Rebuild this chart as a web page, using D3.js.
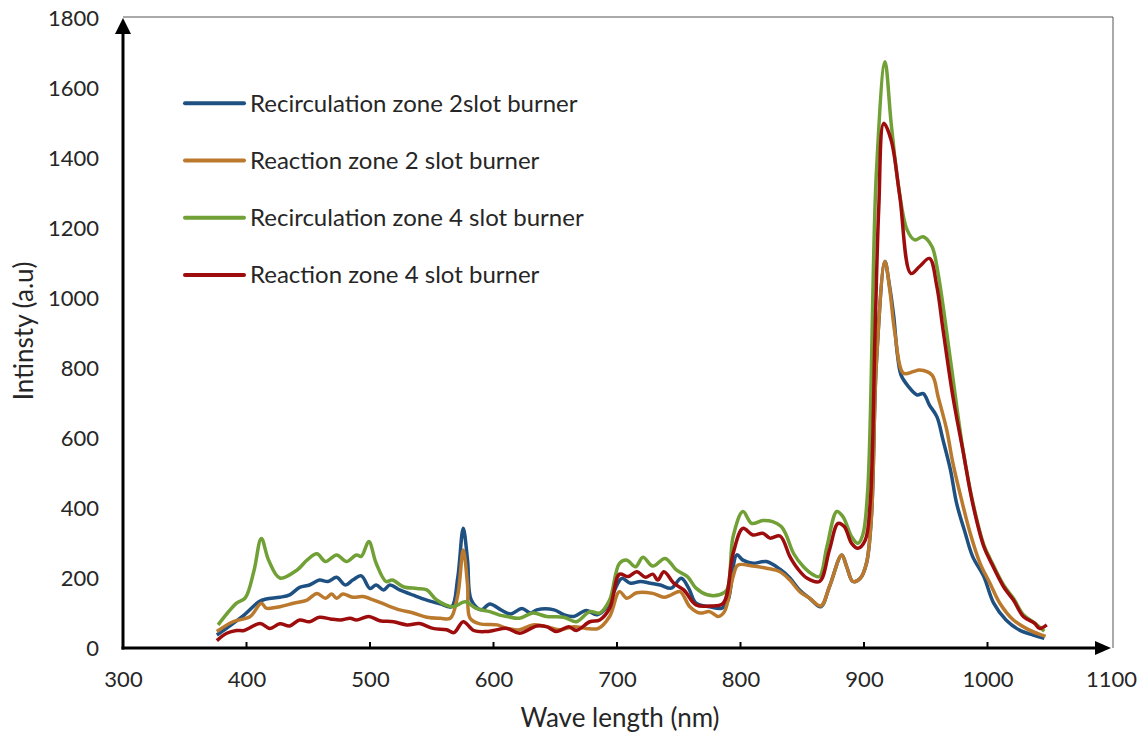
<!DOCTYPE html>
<html><head><meta charset="utf-8">
<script src="https://cdn.jsdelivr.net/npm/d3@7"></script>
<style>body{margin:0;background:#fff}svg{display:block}text{font-family:Lato,"Open Sans",sans-serif;fill:#262626}</style>
</head><body>
<svg id="c" width="1147" height="733"></svg>
<script>
const xTicks = [300,400,500,600,700,800,900,1000,1100];
const yTicks = [0,200,400,600,800,1000,1200,1400,1600,1800];
const seriesNames = ["Recirculation zone 2slot burner","Reaction zone 2 slot burner","Recirculation zone 4 slot burner","Reaction zone 4 slot burner"];
const seriesColors = ["#1E5082","#BA792C","#71A036","#9E0D0D"];

const recirc2 = [[376,37],[389,70],[398,94],[410,132],[416,140],[427,145],[435,152],[443,173],[451,180],[459,194],[466,190],[473,202],[480,180],[486,194],[493,206],[500,170],[505,180],[511,166],[516,180],[524,166],[535,151],[546,137],[557,126],[566,118],[571,200],[575.5,342],[579,250],[582,137],[590,109],[597,126],[606,109],[614,97],[623,113],[630,100],[635,109],[649,109],[657,95],[665,90],[675,107],[684,95],[692,118],[700,180],[704,199],[711,185],[719,190],[727,185],[735,180],[744,171],[752,199],[758,171],[764,128],[775,118],[785,114],[790,137],[797,266],[802,251],[810,242],[821,247],[832,225],[840,200],[848,165],[856,142],[865,118],[872,175],[882,266],[886,232],[891,190],[897,199],[902,242],[906,375],[910,813],[917,1104],[920,1050],[924,950],[927,840],[930,780],[936,747],[943,723],[948,727],[953,694],[959,661],[964,594],[970,509],[975,413],[982,328],[988,261],[997,204],[1005,128],[1015,80],[1026,51],[1037,37],[1046,28]];

const react2 = [[376,47],[389,75],[403,90],[412,128],[416,114],[427,118],[438,128],[449,137],[457,156],[464,142],[469,154],[473,142],[478,154],[486,145],[494,147],[503,137],[513,123],[524,109],[535,100],[546,88],[557,85],[565,85],[571,150],[575.5,280],[579,180],[581,85],[589,69],[603,66],[611,56],[621,52],[632,66],[643,61],[654,52],[665,61],[675,56],[685,56],[694,90],[702,161],[708,142],[716,158],[729,156],[738,145],[744,152],[751,161],[759,118],[767,100],[775,104],[782,90],[787,104],[794,204],[798,237],[810,234],[821,228],[832,218],[840,194],[848,161],[856,142],[865,120],[872,175],[882,266],[886,232],[891,190],[897,199],[902,242],[906,375],[910,813],[917,1104],[921,1020],[925,900],[932,785],[940,790],[945,794],[955,780],[960,718],[967,623],[972,528],[979,423],[986,328],[994,242],[1002,185],[1010,128],[1021,80],[1034,51],[1047,33]];

const recirc4 = [[377,66],[392,128],[399,143],[406,220],[412,313],[418,250],[427,200],[441,223],[449,251],[457,269],[464,247],[473,266],[481,247],[489,266],[493,262],[499,304],[505,242],[513,190],[518,194],[527,175],[538,170],[546,166],[554,137],[567,118],[577,132],[586,113],[597,104],[605,94],[611,90],[621,85],[632,100],[643,90],[657,88],[667,75],[678,104],[686,100],[694,137],[702,242],[708,251],[715,232],[721,259],[729,234],[739,256],[748,223],[757,204],[764,171],[773,152],[783,152],[789,166],[794,318],[802,390],[809,356],[818,364],[826,361],[833,347],[837,323],[843,270],[851,232],[859,209],[864,204],[870,290],[878,390],[883,375],[890,318],[895,299],[899,323],[903,451],[910,1356],[917,1675],[922,1499],[928,1318],[935,1194],[941,1166],[948,1175],[955,1147],[960,1070],[970,823],[980,570],[988,418],[997,295],[1002,256],[1013,180],[1021,142],[1029,95],[1038,72],[1046,48]];

const react4 = [[376,21],[384,42],[392,50],[398,50],[411,70],[419,56],[427,69],[435,63],[443,80],[451,75],[459,88],[468,83],[476,80],[484,85],[489,80],[499,90],[508,78],[519,75],[530,66],[540,70],[551,56],[562,52],[568,44],[575.5,75],[584,50],[594,47],[600,50],[611,56],[621,42],[635,63],[643,61],[651,47],[661,61],[667,50],[678,75],[686,80],[694,113],[702,211],[709,204],[716,218],[723,202],[729,211],[733,194],[738,218],[746,185],[754,166],[764,123],[775,120],[786,128],[794,270],[802,342],[810,323],[818,328],[824,314],[832,320],[840,261],[846,228],[854,199],[864,190],[872,280],[879,356],[884,347],[890,299],[895,285],[901,308],[905,413],[909,909],[912,1261],[916,1499],[922,1451],[929,1290],[938,1070],[945,1090],[953,1113],[959,1033],[964,909],[972,718],[980,566],[988,413],[997,290],[1002,251],[1013,175],[1021,137],[1029,90],[1038,71],[1042,56],[1048,66]];

const allSeries = [recirc2, react2, recirc4, react4];

const svg = d3.select("#c");
const x = d3.scaleLinear().domain([300,1100]).range([123,1111]);
const y = d3.scaleLinear().domain([0,1800]).range([648,18]);

// thin frame top/right
svg.append("line").attr("x1",x(300)).attr("x2",1113).attr("y1",17).attr("y2",17).attr("stroke","#555").attr("stroke-width",1);
svg.append("line").attr("x1",1113).attr("x2",1113).attr("y1",17).attr("y2",648).attr("stroke","#555").attr("stroke-width",1);

// series
const line = d3.line().x(d=>x(d[0])).y(d=>y(d[1])).curve(d3.curveCatmullRom.alpha(0.5));
allSeries.forEach((s,i)=>{
  svg.append("path").datum(s).attr("d",line).attr("fill","none")
    .attr("stroke",seriesColors[i]).attr("stroke-width",3.5).attr("stroke-linejoin","round");
});

// x axis
const xAxis = d3.axisBottom(x).tickValues(xTicks).tickSize(0).tickPadding(23).tickFormat(d3.format("d"));
const gx = svg.append("g").attr("transform",`translate(0,${y(0)})`).call(xAxis);
gx.select(".domain").remove();
gx.selectAll("text").style("font-size","22px").style("font-family","Lato,sans-serif").attr("fill","#262626");
xTicks.slice(1,-1).forEach(t=>{
  svg.append("line").attr("x1",x(t)).attr("x2",x(t)).attr("y1",y(0)).attr("y2",y(0)-6).attr("stroke","#000").attr("stroke-width",2);
});
svg.append("line").attr("x1",x(300)-1.5).attr("x2",x(1100)-12).attr("y1",y(0)).attr("y2",y(0)).attr("stroke","#000").attr("stroke-width",3);
svg.append("path").attr("d",`M${x(1100)},${y(0)} l-16,-7 v14 z`).attr("fill","#000");

// y axis
const yAxis = d3.axisLeft(y).tickValues(yTicks).tickSize(0).tickPadding(24).tickFormat(d3.format("d"));
const gy = svg.append("g").attr("transform",`translate(${x(300)},0)`).call(yAxis);
gy.select(".domain").remove();
gy.selectAll("text").style("font-size","22px").style("font-family","Lato,sans-serif").attr("fill","#262626");
svg.append("line").attr("x1",x(300)).attr("x2",x(300)).attr("y1",y(0)+1.5).attr("y2",y(1800)+12).attr("stroke","#000").attr("stroke-width",3);
svg.append("path").attr("d",`M${x(300)},${y(1800)} l-8,16 h16 z`).attr("fill","#000");

// axis titles
svg.append("text").attr("x",620).attr("y",727).attr("text-anchor","middle").style("font-size","26px").text("Wave length (nm)");
svg.append("text").attr("transform",`translate(33,331) rotate(-90)`).attr("text-anchor","middle").style("font-size","26px").text("Intinsty (a.u)");

// legend
seriesNames.forEach((n,i)=>{
  const ly = 103.3 + i*57.2;
  svg.append("line").attr("x1",185).attr("x2",244).attr("y1",ly).attr("y2",ly).attr("stroke",seriesColors[i]).attr("stroke-width",4).attr("stroke-linecap","round");
  svg.append("text").attr("x",250).attr("y",ly+8.5).style("font-size","24px").text(n);
});
</script>
</body></html>
